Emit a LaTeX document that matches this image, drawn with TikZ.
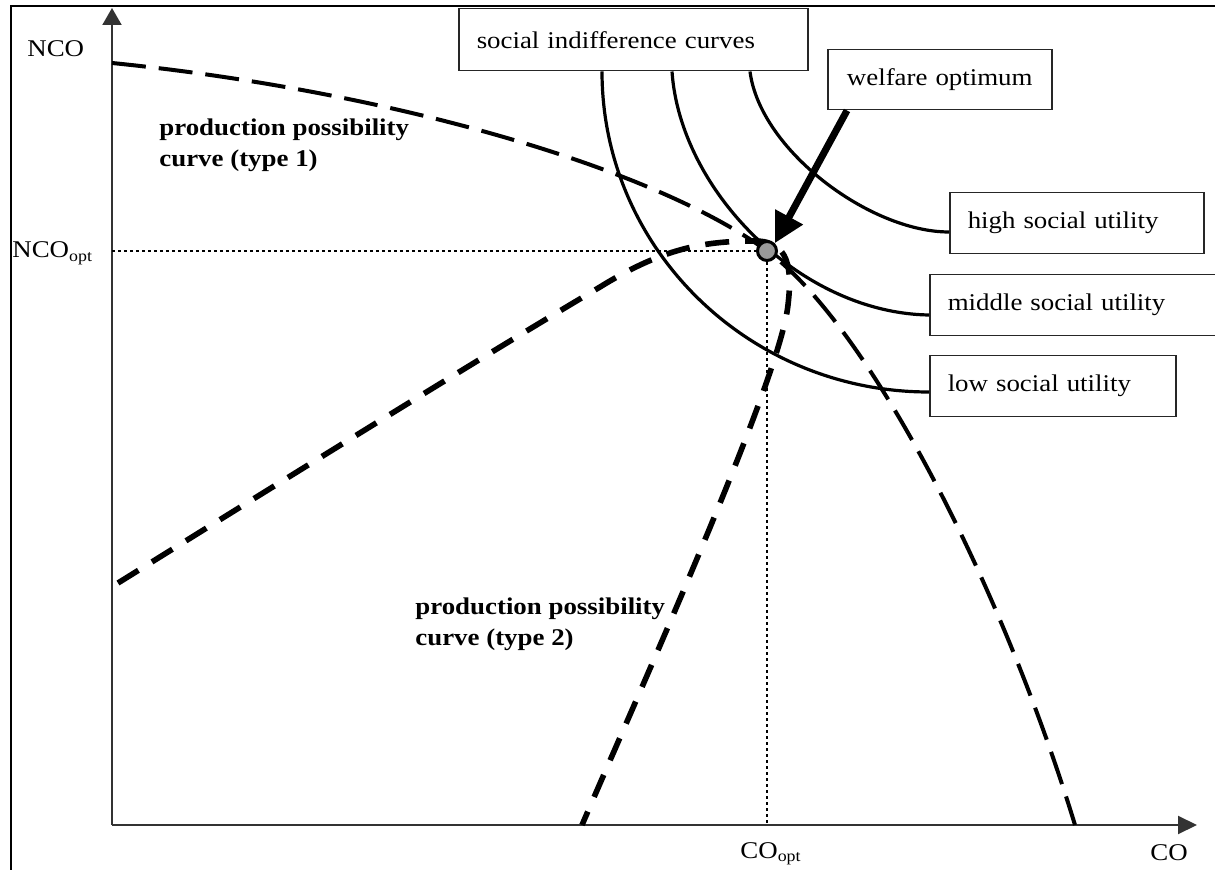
\documentclass[tikz,border=0pt]{standalone}
\usepackage{fontspec}
\setmainfont{Liberation Serif}[FakeStretch=1.12]
\usetikzlibrary{arrows.meta,calc}
\begin{document}
\begin{tikzpicture}[x=0.5pt,y=-0.5pt,
  lbl/.style={font=\fontsize{12}{14}\selectfont, inner sep=0pt, anchor=base west},
  blbl/.style={font=\fontsize{12}{15.5}\selectfont\bfseries, inner sep=0pt, align=left, anchor=west},
  box/.style={draw=black!85, line width=0.75pt, fill=white, font=\fontsize{12}{14}\selectfont, anchor=north west, inner xsep=9pt, inner ysep=0pt, align=left},
  axis/.style={draw=black!80, line width=1pt},
  icurve/.style={line width=1.6pt},
  ppcone/.style={line width=2pt, dash pattern=on 17pt off 6.5pt},
  ppctwo/.style={line width=2.8pt, dash pattern=on 12pt off 8pt},
  dots/.style={line width=1.3pt, dash pattern=on 1.5pt off 1.5pt},
  optpt/.style={circle, draw, line width=1.5pt, fill=black!40, minimum size=9.5pt, inner sep=0pt},
]
\clip (0,0) rectangle (1215,870);
% frame
\draw[line width=1pt] (11,870) -- (11,6) -- (1215,6);
% axes
\coordinate (O) at (112,825);
\coordinate (Ytip) at (112,8);
\coordinate (Xtip) at (1197,825);
\draw[axis,-{Triangle[length=8.5pt,width=9.5pt]}] (O) -- (Ytip);
\draw[axis,-{Triangle[length=9.5pt,width=9pt]}] (O) -- (Xtip);
% boxes
\node[box, text width=156.5pt, minimum height=31pt] (soc) at (458,8) {social indifference curves};
\node[box, text width=94pt, minimum height=30pt, align=center] (wel) at (827,49) {welfare optimum};
\node[box, text width=109pt, minimum height=30.5pt] (high) at (949,192) {high social utility};
\node[box, text width=137.5pt, minimum height=30.5pt] (mid) at (929,274) {middle social utility};
\node[box, text width=105pt, minimum height=30.5pt] (low) at (929,355) {low social utility};
% optimum coordinate
\coordinate (optc) at (767,251);
% indifference curves
\draw[icurve] (602,0 |- soc.south) .. controls (602,248) and (748,392) .. (low.west |- 0,392);
\draw[icurve] (672,0 |- soc.south) .. controls (680,190) and (800,313) .. (mid.west |- 0,315);
\draw[icurve] (750,0 |- soc.south) .. controls (760,150) and (870,232) .. (high.west |- 0,232);
% production possibility curves
\draw[ppcone] (O |- 0,63) .. controls (380,90) and (650,165) .. (optc)
  .. controls (867,324) and (1000,580) .. (1075,0 |- O);
\draw[ppctwo] (118,583) .. controls (300,470) and (480,358) .. (600,287)
  .. controls (660,250) and (700,241) .. (755,241)
  .. controls (790,241) and (792,270) .. (788,305)
  .. controls (780,380) and (640,690) .. (582,0 |- O);
% optimum
\node[optpt] (opt) at (optc) {};
\draw[dots] (O |- opt) -- (opt.west);
\draw[dots] (opt.south) -- (opt |- O);
\draw[line width=3.5pt, -{Triangle[length=15pt,width=15pt]}] (847,0 |- wel.south) -- (opt.north east);
% labels
\node[lbl] (nco) at (27,57) {NCO};
\node[lbl] (ncoopt) at (12,258) {NCO\textsubscript{opt}};
\node[lbl] (coopt) at (740,858) {CO\textsubscript{opt}};
\node[lbl] (co) at (1150,860) {CO};
\node[blbl] (ppa) at (159,145) {production possibility\\curve (type 1)};
\node[blbl] (ppb) at (415,624) {production possibility\\curve (type 2)};
\end{tikzpicture}
\end{document}
